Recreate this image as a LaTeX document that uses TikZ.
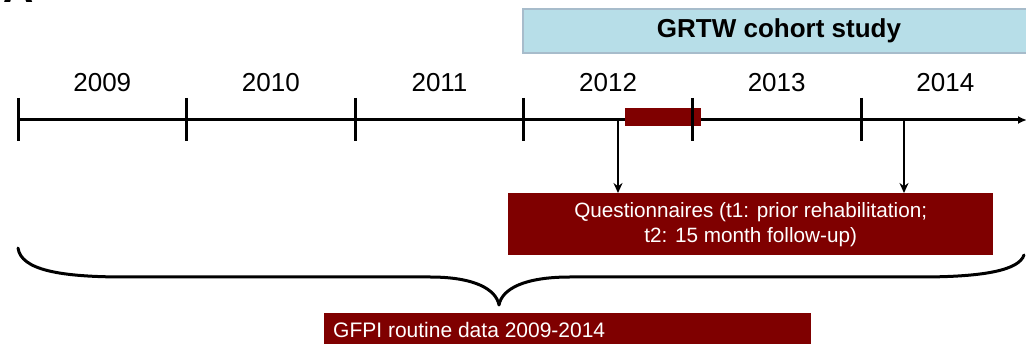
\documentclass[tikz,border=0pt]{standalone}
\usepackage{fontspec}
\setmainfont{Liberation Sans}
\usetikzlibrary{arrows.meta}
\definecolor{maroon}{HTML}{7F0000}
\definecolor{cohortfill}{HTML}{B7DEE8}
\definecolor{cohortline}{HTML}{A7BCCB}

\begin{document}
\begin{tikzpicture}[x=1pt,y=-1pt,
  yearlabel/.style={font=\fontsize{26}{30}\selectfont, anchor=base, inner sep=0pt},
  darkbox/.style={fill=maroon, draw=none, inner sep=0pt},
  whitetext/.style={text=white, font=\fontsize{20.7}{25}\selectfont},
  axisline/.style={line width=3pt},
  tickmark/.style={line width=3pt},
  pointer/.style={line width=2.8pt, -{Stealth[length=10pt,width=9pt]}},
  braceline/.style={line width=3pt, line cap=round, line join=round}]
\useasboundingbox (0,0) rectangle (1026,344);

% panel letter (mostly above the page edge)
\node[anchor=base west, inner sep=0pt, font=\fontsize{42}{42}\bfseries\selectfont] (panel) at (3,2.7) {A};

% cohort study banner
\node[draw=cohortline, line width=2pt, fill=cohortfill, anchor=north west,
      minimum width=512pt, minimum height=44pt, inner sep=0pt,
      font=\fontsize{26}{30}\bfseries\selectfont] (grtw) at (522,8) {GRTW cohort study};

% time axis
\coordinate (axstart) at (18,120);
\coordinate (axend) at (1027,120);
\draw[axisline, -{Latex[length=9pt,width=8pt]}] (axstart) -- (axend);

% rehabilitation period
\node[darkbox, anchor=north west, minimum width=76pt, minimum height=18pt] (rehab) at (625,108) {};

% year ticks and labels
\foreach \i/\yr in {0/2009,1/2010,2/2011,3/2012,4/2013,5/2014}{
  \coordinate (tick\i) at ({18+168.6*\i},120);
  \draw[tickmark] ({18+168.6*\i},98) -- ({18+168.6*\i},141);
  \node[yearlabel] (year\i) at ({102.3+168.6*\i},92) {\yr};
}

% questionnaires
\node[darkbox, anchor=north west, minimum width=485pt, minimum height=62pt,
      whitetext, align=center] (quest) at (508,193)
  {Questionnaires (t1: prior rehabilitation;\\ t2: 15 month follow-up)};
\coordinate (t1) at (618,120);
\coordinate (t2) at (904,120);
\draw[pointer] (t1) -- (t1 |- quest.north);
\draw[pointer] (t2) -- (t2 |- quest.north);

% brace over the whole period
\coordinate (braceL) at (18,248);
\coordinate (braceTip) at (499,305);
\coordinate (braceR) at (1024,255);
\draw[braceline] (braceL) .. controls (21,270) and (60,277) .. (125,277)
  -- (430,277) .. controls (474,277) and (496,289) .. (braceTip)
  .. controls (502,289) and (524,277) .. (570,277)
  -- (920,277) .. controls (985,277) and (1019,270) .. (braceR);

% routine data
\node[darkbox, anchor=north west, minimum width=487pt, minimum height=40pt] (gfpi) at (324,313) {};
\node[whitetext, font=\fontsize{21}{25}\selectfont, anchor=base west, inner sep=0pt] (gfpitext) at (333,338) {GFPI routine data 2009-2014};
\end{tikzpicture}
\end{document}
